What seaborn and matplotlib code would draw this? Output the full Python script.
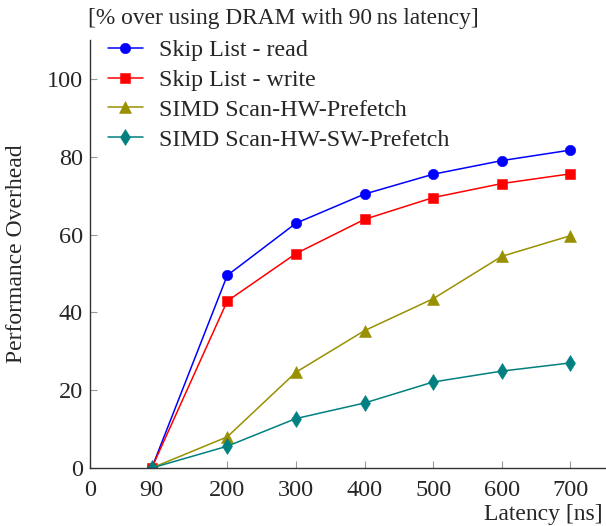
import numpy as np
import pandas as pd
import matplotlib
matplotlib.use("Agg")
import matplotlib.pyplot as plt
import seaborn as sns

latency = [90, 200, 300, 400, 500, 600, 700]
skip_read = [0, 49.5, 62.9, 70.4, 75.5, 79.0, 81.7]
skip_write = [0, 42.9, 55.1, 63.9, 69.5, 73.1, 75.6]
simd_hw = [0, 8.0, 24.6, 35.3, 43.5, 54.4, 59.7]
simd_hw_sw = [0, 5.6, 12.7, 16.7, 22.1, 24.9, 27.0]

series = ["Skip List - read", "Skip List - write",
          "SIMD Scan-HW-Prefetch", "SIMD Scan-HW-SW-Prefetch"]
x_ticks = [0, 90, 200, 300, 400, 500, 600, 700]
y_ticks = [0, 20, 40, 60, 80, 100]

colors = {series[0]: "#0000ff", series[1]: "#ff0000",
          series[2]: "#999000", series[3]: "#008080"}
markers = {series[0]: "o", series[1]: "s", series[2]: "^", series[3]: "d"}
msize = {series[0]: 7.5, series[1]: 7, series[2]: 8, series[3]: 8}

rows = []
for name, vals in zip(series, [skip_read, skip_write, simd_hw, simd_hw_sw]):
    for lat, v in zip(latency, vals):
        rows.append({"Latency": lat, "Overhead": v, "Series": name})
df = pd.DataFrame(rows)

sns.set_style("ticks")
plt.rcParams["font.family"] = ["Liberation Serif", "DejaVu Serif"]

fig = plt.figure(figsize=(6.06, 5.26), dpi=100)
ax = fig.add_axes([0.1485, 0.1103, 0.8495, 0.8137])

for name in series:
    sub = df[df["Series"] == name]
    sns.lineplot(data=sub, x="Latency", y="Overhead", ax=ax, color=colors[name],
                 marker=markers[name], markersize=msize[name], markeredgewidth=0.4,
                 markeredgecolor=colors[name], linewidth=1.1, label=name)

ax.set_xlim(0, 750)
ax.set_ylim(0, 110)
ax.set_xticks(x_ticks)
ax.set_yticks(y_ticks)
ax.tick_params(direction="in", length=5, color="#999999", labelsize=17.5)
ax.tick_params(axis="x", pad=9)
ax.tick_params(axis="y", pad=5)
for s in ["top", "right"]:
    ax.spines[s].set_visible(False)
for s in ["left", "bottom"]:
    ax.spines[s].set_linewidth(1.0)
    ax.spines[s].set_color("#333333")

ax.set_xlabel("")
ax.set_ylabel("Performance Overhead", fontsize=17)
ax.yaxis.set_label_coords(-0.122, 0.5)
fig.text(0.995, 0.0114, "Latency [ns]", ha="right", va="baseline", fontsize=17)
fig.text(0.145, 0.965, "[% over using DRAM with 90\u2009ns latency]",
         ha="left", va="center", fontsize=16.8)

leg = ax.legend(loc="upper left", frameon=False, fontsize=17.3, handlelength=1.45,
                labelspacing=0.33, handletextpad=0.68, borderaxespad=0.0,
                borderpad=0.0, bbox_to_anchor=(0.035, 1.001))

fig.savefig("out.png", dpi=100)
